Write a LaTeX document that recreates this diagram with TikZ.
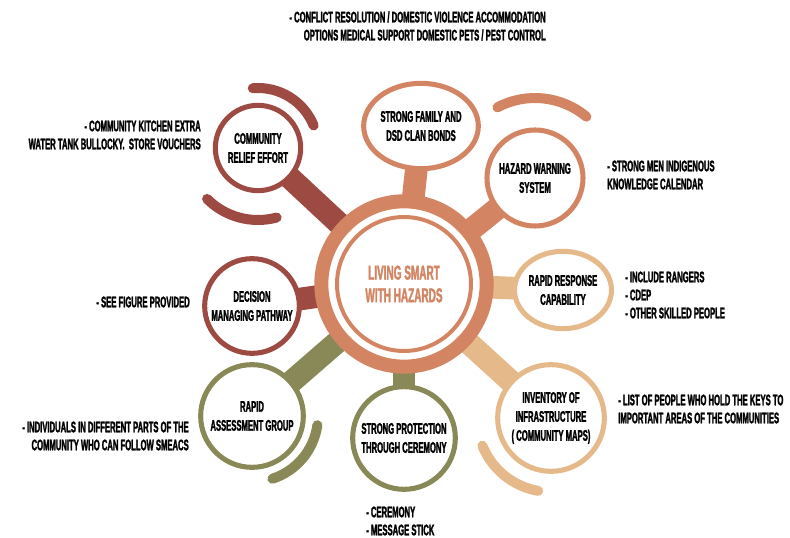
\documentclass[tikz,border=0pt]{standalone}
\usepackage{fontspec}
\setmainfont{Liberation Sans}[UprightFont={* Bold}, FakeStretch=0.5, FakeBold=1.6]
\usepackage{tikz}
\usetikzlibrary{backgrounds,shapes.geometric}
\definecolor{rust}{RGB}{157,74,67}
\definecolor{clay}{RGB}{211,133,99}
\definecolor{sand}{RGB}{229,185,137}
\definecolor{olive}{RGB}{137,137,88}

\begin{document}
\begin{tikzpicture}[x=0.75pt,y=-0.75pt,
  note/.style={font=\fontsize{11.5}{13.5}\selectfont, inner sep=0pt},
  bubble/.style={circle, draw=#1, line width=3.8pt, fill=white, align=center, inner sep=0pt,
    font=\fontsize{11.5}{14.25}\selectfont},
  oval/.style={ellipse, draw=#1, line width=3.8pt, fill=white, align=center, inner sep=0pt,
    font=\fontsize{11.5}{14.25}\selectfont},
  link/.style={draw=#1, line width=17pt},
  swoosh/.style={draw=#1, line width=7.5pt, line cap=round}]
\useasboundingbox (0,0) rectangle (790,538);

\node[circle, draw=clay, line width=10.5pt, fill=white, minimum size=124pt, align=center,
  text=clay, font=\fontsize{15}{17}\selectfont] (hub) at (404,284) {LIVING SMART\\WITH HAZARDS};
\draw[clay, line width=3pt] (hub.center) circle[radius=67];

\node[oval=clay, minimum width=82pt, minimum height=64pt] (family) at (421,126) {STRONG FAMILY AND\\DSD CLAN BONDS};
\node[bubble=clay, minimum size=72pt] (hazard) at (535,178) {HAZARD WARNING\\SYSTEM};
\node[bubble=rust, minimum size=64pt] (relief) at (258,148) {COMMUNITY\\RELIEF EFFORT};
\node[bubble=rust, minimum size=71pt] (decision) at (252,306) {DECISION\\MANAGING PATHWAY};
\node[oval=sand, minimum width=71pt, minimum height=58pt] (response) at (563,290) {RAPID RESPONSE\\CAPABILITY};
\node[bubble=sand, minimum size=80pt] (inventory) at (551,418) {INVENTORY OF\\INFRASTRUCTURE\\( COMMUNITY MAPS)};
\node[bubble=olive, minimum size=77pt] (protection) at (404,438) {STRONG PROTECTION\\THROUGH CEREMONY};
\node[bubble=olive, minimum size=77pt] (assessment) at (252,416) {RAPID\\ASSESSMENT GROUP};

\begin{scope}[on background layer]
\draw[link=clay] (hub.center) -- (family.center);
\draw[link=clay] (hub.center) -- (hazard.center);
\draw[link=rust] (hub.center) -- (relief.center);
\draw[link=rust] (hub.center) -- (decision.center);
\draw[link=sand] (hub.center) -- (response.center);
\draw[link=sand] (hub.center) -- (inventory.center);
\draw[link=olive] (hub.center) -- (protection.center);
\draw[link=olive] (hub.center) -- (assessment.center);
\end{scope}

\draw[swoosh=rust] ([shift={(-95:60)}]relief.center) arc[start angle=-95, end angle=-22, radius=60];
\draw[swoosh=rust] ([shift={(135:72)}]relief.center) arc[start angle=135, end angle=75, radius=72];
\draw[swoosh=clay] ([shift={(-118:80)}]hazard.center) arc[start angle=-118, end angle=-50, radius=80];
\draw[swoosh=olive] ([shift={(72:66)}]assessment.center) arc[start angle=72, end angle=8, radius=66];
\draw[swoosh=sand] ([shift={(158:74)}]inventory.center) arc[start angle=158, end angle=100, radius=74];

\node[note, align=right, anchor=east] (conflict) at (546,26) {- CONFLICT RESOLUTION / DOMESTIC VIOLENCE ACCOMMODATION\\OPTIONS MEDICAL SUPPORT DOMESTIC PETS / PEST CONTROL};
\node[note, align=right, anchor=east] (kitchen) at (201,135) {- COMMUNITY KITCHEN EXTRA\\WATER TANK BULLOCKY.~~STORE VOUCHERS};
\node[note, align=left, anchor=west] (strongmen) at (607,175) {- STRONG MEN INDIGENOUS\\KNOWLEDGE CALENDAR};
\node[note, align=left, anchor=west] (rangers) at (625,295) {- INCLUDE RANGERS\\- CDEP\\- OTHER SKILLED PEOPLE};
\node[note, align=left, anchor=west] (keys) at (618,409) {- LIST OF PEOPLE WHO HOLD THE KEYS TO\\IMPORTANT AREAS OF THE COMMUNITIES};
\node[note, anchor=east] (figure) at (190,302) {- SEE FIGURE PROVIDED};
\node[note, align=right, anchor=east] (smeacs) at (189,436) {- INDIVIDUALS IN DIFFERENT PARTS OF THE\\COMMUNITY WHO CAN FOLLOW SMEACS};
\node[note, align=left, anchor=west] (ceremony) at (366,521) {- CEREMONY\\- MESSAGE STICK};
\end{tikzpicture}
\end{document}
